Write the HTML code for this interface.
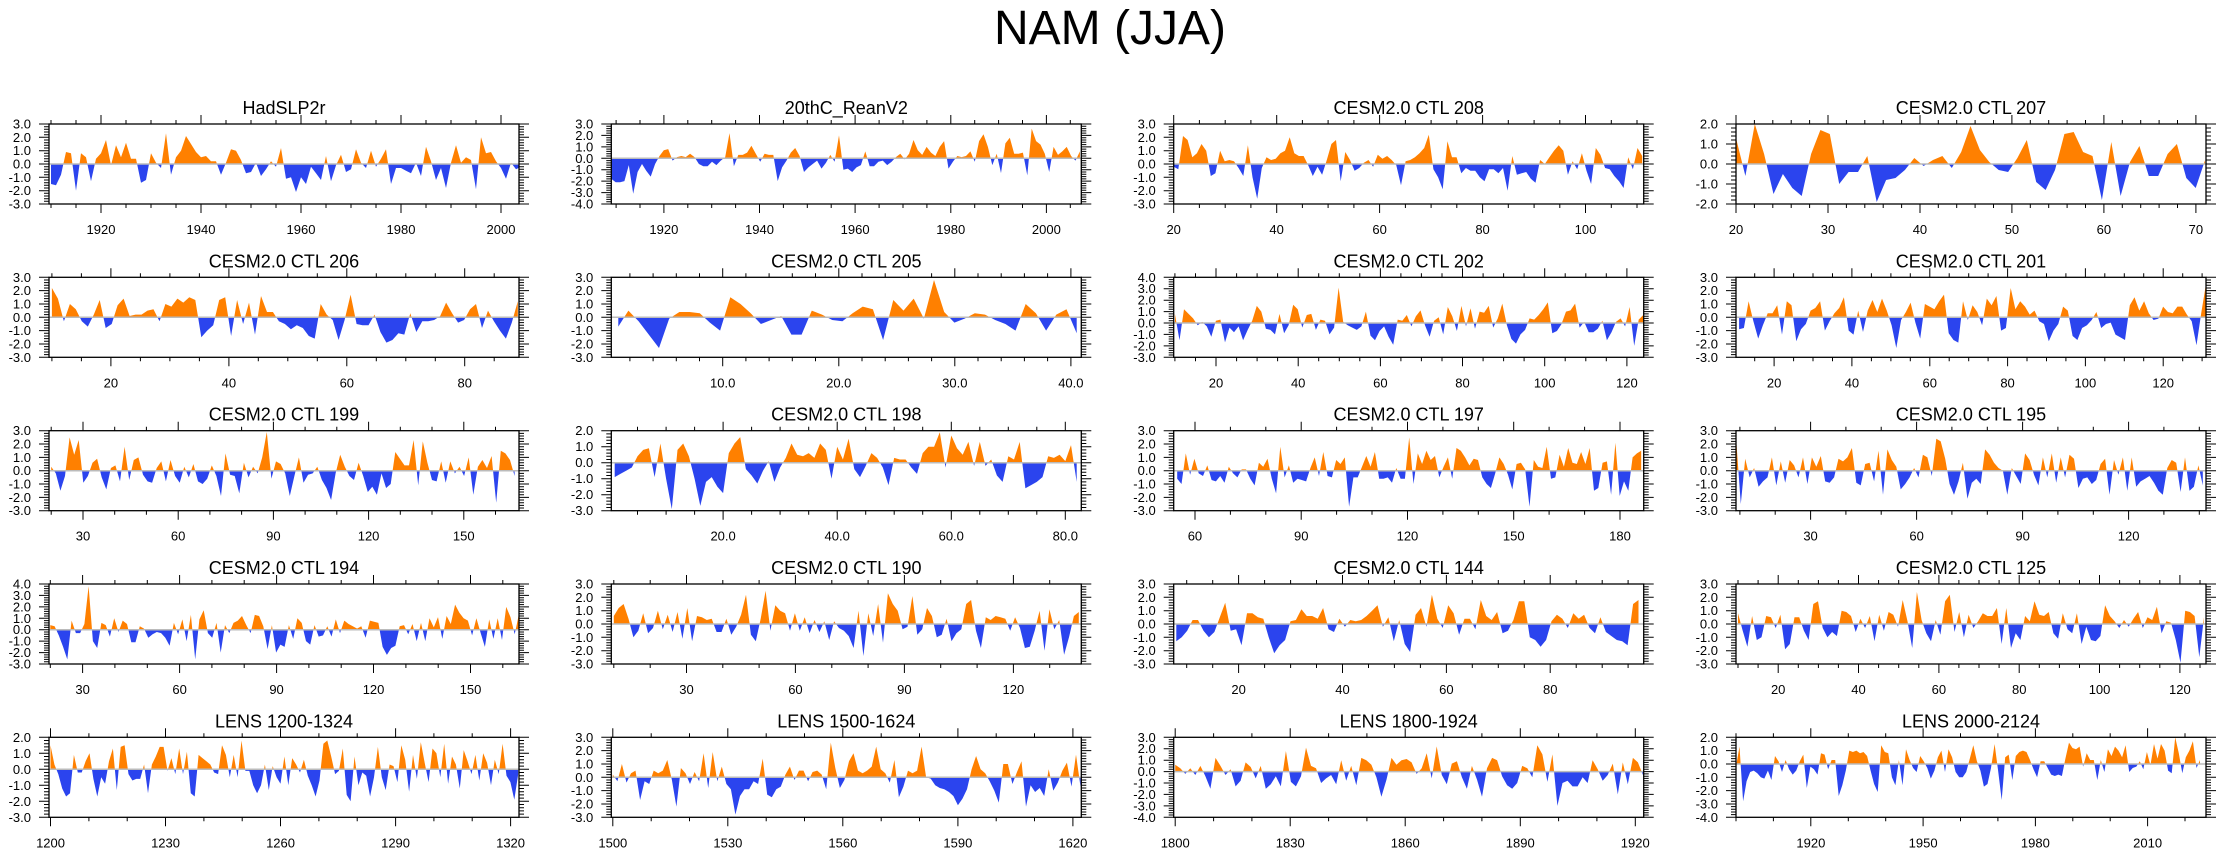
<!DOCTYPE html>
<html><head><meta charset="utf-8"><style>
html,body{margin:0;padding:0;background:#fff;}
svg{display:block;font-family:"Liberation Sans",Arial,sans-serif;}
</style></head><body>
<svg id="fig" width="2238" height="855" viewBox="0 0 2238 855" xmlns="http://www.w3.org/2000/svg">
<rect width="2238" height="855" fill="#fff"/>
<text x="1110" y="44" font-size="48" text-anchor="middle">NAM (JJA)</text>
</svg>
<script>
const titles=["HadSLP2r","20thC_ReanV2","CESM2.0 CTL 208","CESM2.0 CTL 207","CESM2.0 CTL 206","CESM2.0 CTL 205","CESM2.0 CTL 202","CESM2.0 CTL 201","CESM2.0 CTL 199","CESM2.0 CTL 198","CESM2.0 CTL 197","CESM2.0 CTL 195","CESM2.0 CTL 194","CESM2.0 CTL 190","CESM2.0 CTL 144","CESM2.0 CTL 125","LENS 1200-1324","LENS 1500-1624","LENS 1800-1924","LENS 2000-2124"];
const xRanges=[[1909.6,2003.6],[1909,2007.3],[20,111.3],[20,71.1],[9.5,89.2],[0.4,40.9],[9.7,124.1],[10.2,131],[19.3,167.4],[0.4,82.8],[54,186.7],[8.9,141.9],[19.6,165],[9.3,138.7],[7.5,98],[9.5,126.5],[1199.6,1322.2],[1499.6,1622.2],[1799.6,1922.2],[1900,2025.6]];
const dataSpan=[[1910,2004],[1909,2007],[20,111],[20,71],[10,89],[1,40.5],[10,124],[11,131],[20,166],[1,82],[55,186],[9,141],[20,165],[10,138],[8,97],[10,126],[1200,1322],[1500,1622],[1800,1922],[1900,2024]];
const yRanges=[[-3,3],[-4,3],[-3,3],[-2,2],[-3,3],[-3,3],[-3,4],[-3,3],[-3,3],[-3,2],[-3,3],[-3,3],[-3,4],[-3,3],[-3,3],[-3,3],[-3,2],[-3,3],[-4,3],[-4,2]];
const majorTicks=[[1920,1940,1960,1980,2000],[1920,1940,1960,1980,2000],[20,40,60,80,100],[20,30,40,50,60,70],[20,40,60,80],[10,20,30,40],[20,40,60,80,100,120],[20,40,60,80,100,120],[30,60,90,120,150],[20,40,60,80],[60,90,120,150,180],[30,60,90,120],[30,60,90,120,150],[30,60,90,120],[20,40,60,80],[20,40,60,80,100,120],[1200,1230,1260,1290,1320],[1500,1530,1560,1590,1620],[1800,1830,1860,1890,1920],[1920,1950,1980,2010]];
const tickLabels=[["1920","1940","1960","1980","2000"],["1920","1940","1960","1980","2000"],["20","40","60","80","100"],["20","30","40","50","60","70"],["20","40","60","80"],["10.0","20.0","30.0","40.0"],["20","40","60","80","100","120"],["20","40","60","80","100","120"],["30","60","90","120","150"],["20.0","40.0","60.0","80.0"],["60","90","120","150","180"],["30","60","90","120"],["30","60","90","120","150"],["30","60","90","120"],["20","40","60","80"],["20","40","60","80","100","120"],["1200","1230","1260","1290","1320"],["1500","1530","1560","1590","1620"],["1800","1830","1860","1890","1920"],["1920","1950","1980","2010"]];
const minorStep=[5,5,5,2,5,2,5,5,10,5,10,10,10,10,5,5,10,10,10,10];
const s0=[-1.5,-1.6,-0.8,0.9,0.8,-2.0,0.8,0.5,-1.3,0.4,0.8,1.8,-0.1,1.4,0.5,1.6,0.4,0.4,-1.4,-1.2,0.8,0.1,-0.3,2.3,-0.8,0.5,1.0,2.1,1.5,0.9,0.5,0.6,0.2,0.2,-0.8,0.1,1.1,1.0,0.3,-0.7,-0.6,0.1,-0.9,-0.4,0.2,-0.2,1.2,-1.1,-1.0,-2.1,-1.0,-1.5,-0.2,-0.7,-1.2,0.6,-1.3,-0.1,0.7,-0.6,-0.4,1.1,0.1,-0.3,1.0,-0.2,0.4,1.1,-1.5,-0.3,-0.3,-0.5,-0.7,0.1,-0.9,1.3,0.2,-1.2,-0.3,-1.8,0.1,1.4,0.1,0.5,0.3,-1.9,2.0,0.8,0.9,0.2,-0.3,-1.1,0.1,-0.4,-0.2];
const s1=[-1.8,-2.1,-2.1,-2.0,-0.6,-3.1,-1.2,-0.5,-1.1,-1.6,-0.5,0.2,0.7,0.8,-0.2,0.1,0.2,0.1,0.4,0.1,-0.5,-0.7,-0.7,-0.3,-0.6,-0.2,0.1,2.2,-0.7,0.3,0.3,0.5,1.1,0.4,-0.3,0.4,0.3,0.3,-2.0,-0.8,-0.2,0.5,0.9,0.2,-1.2,-0.8,-0.5,-0.2,-0.9,-0.4,0.3,-0.3,2.0,-1.0,-0.9,-1.2,-0.8,-0.6,0.6,-0.7,-0.7,-0.3,-0.2,-0.6,-0.3,0.1,0.4,-0.1,0.4,1.6,0.7,0.3,1.0,0.5,0.2,1.0,1.5,-0.9,-0.3,0.2,0.1,0.2,0.6,-0.3,1.5,2.1,1.0,-0.6,0.4,-1.3,1.3,1.8,0.4,0.4,0.5,-1.5,2.6,1.5,1.2,0.4,-1.2,1.0,0.3,0.6,1.0,0.2,-0.2,0.6];
const s2=[-0.2,-0.4,2.1,1.8,0.5,0.8,1.5,1.0,-0.9,-0.7,1.0,0.2,0.3,0.2,-0.3,-0.9,1.4,-1.0,-2.6,-0.3,0.5,0.3,0.4,0.8,1.0,2.0,0.8,0.6,0.6,-0.1,-0.9,-0.2,-0.8,0.3,1.5,1.8,-1.3,0.9,0.3,-0.5,-0.3,0.1,0.3,-0.2,0.7,0.4,0.6,0.3,-0.1,-1.6,0.2,0.3,0.5,0.8,1.2,2.2,-0.4,-1.0,-1.9,1.7,0.5,0.5,-0.7,-0.3,-0.5,-0.5,-1.0,-1.3,-0.4,-0.4,-0.7,-0.3,-2.0,0.6,-0.8,-0.7,-0.6,-1.1,-1.4,0.3,0.0,0.5,1.0,1.4,1.0,-0.8,0.2,-0.4,0.8,-0.5,-1.5,1.2,0.7,-0.3,-0.4,-0.9,-1.3,-1.8,0.5,-0.4,1.2,0.6];
const s3=[1.3,-0.6,2.0,0.5,-1.5,-0.5,-1.2,-1.6,0.5,1.7,1.5,-1.0,-0.4,-0.4,0.4,-1.9,-0.8,-0.7,-0.3,0.3,-0.1,0.2,0.4,-0.2,0.6,1.9,0.7,0.1,-0.3,-0.4,0.3,1.2,-0.9,-1.3,-0.3,1.5,1.6,0.6,0.4,-1.8,1.1,-1.6,0.1,0.9,-0.6,-0.6,0.5,1.0,-0.7,-1.2,0.2];
const s4=[2.2,1.4,-0.3,1.0,0.6,-0.3,-0.7,0.2,1.3,-0.8,-0.5,0.9,1.4,0.1,0.2,0.2,0.5,0.6,-0.3,1.0,0.8,1.4,1.1,1.5,1.3,-1.5,-1.0,-0.6,1.3,1.5,-1.4,1.3,-0.5,1.1,-1.3,1.6,0.4,0.4,-0.3,-0.5,-0.9,-0.6,-0.8,-1.4,-1.6,1.0,0.2,-0.2,-1.7,-0.2,1.7,-0.5,-0.6,-0.6,0.2,-1.1,-1.9,-1.7,-1.2,-1.3,0.3,-1.1,-0.3,-0.3,-0.2,0.1,1.1,0.3,-0.4,-0.2,0.6,1.0,-0.8,0.5,-0.3,-1.0,-1.6,-0.4,1.2];
const s5=[-0.7,0.5,-0.3,-1.3,-2.3,-0.1,0.4,0.4,0.3,-0.4,-1.0,1.5,1.0,0.3,-0.5,-0.2,0.1,-1.3,-1.3,0.5,0.2,-0.2,-0.3,0.3,0.8,0.6,-1.7,1.3,0.5,1.4,-0.1,2.8,0.4,-0.4,-0.1,0.3,0.2,-0.2,-0.5,-1.0,1.0,0.3,-1.0,0.2,0.6,-1.2];
const s6=[0.8,-1.5,1.2,0.8,0.4,-0.2,0.1,-0.3,-1.2,0.2,0.3,-1.7,-0.4,-0.8,-0.3,-1.5,-0.6,0.2,1.5,1.0,-0.5,-0.6,-1.0,0.8,-0.9,-0.2,1.6,1.2,-0.4,0.7,0.8,-0.6,0.3,0.2,-1.0,-0.4,3.1,0.1,-0.2,-0.4,-0.6,-0.3,1.0,-1.1,-1.5,-0.7,-0.3,-1.2,-1.9,0.3,0.2,0.7,-0.3,0.6,1.1,-0.2,-1.2,0.2,0.5,-1.0,1.4,0.6,-0.7,1.5,-0.3,1.3,-0.5,1.0,0.9,1.5,-0.4,0.4,1.7,-0.2,-1.4,-1.8,-1.0,-0.6,0.4,0.3,0.7,1.2,1.8,-0.9,-0.7,-0.1,1.0,1.1,1.7,-0.4,0.1,-0.8,-0.8,-0.5,0.2,-1.5,-0.8,0.1,0.4,-0.3,1.4,-2.0,0.3,0.7];
const s7=[-0.9,-0.8,1.2,-0.3,-1.6,-0.6,0.3,0.3,0.9,-1.3,1.2,0.9,-1.8,-0.9,-0.5,0.5,0.7,1.2,-1.0,-0.3,0.3,0.7,1.5,-1.0,-1.3,0.5,-1.1,0.5,1.3,0.4,1.4,0.5,-0.6,-2.3,-0.2,0.4,1.1,-0.4,-1.6,1.0,0.8,0.6,1.2,1.7,-1.2,-1.7,-1.9,1.2,-0.2,0.9,0.4,-0.6,1.4,0.9,1.6,-1.0,-0.8,2.2,0.6,1.2,0.8,0.2,0.5,-0.3,-0.5,-1.8,-1.0,-0.5,0.8,0.5,-1.4,-1.7,-0.8,-0.6,-0.2,0.4,-0.8,-0.5,-0.4,-1.3,-1.5,-1.7,0.9,1.5,0.5,1.2,0.3,-0.2,-0.1,0.8,0.4,0.3,0.8,0.8,0.2,-0.3,-2.1,0.3,2.5];
const s8=[0.3,-0.2,-1.5,-0.4,2.5,1.2,2.3,-0.9,-0.4,0.6,0.9,-0.5,-1.4,0.2,0.4,-0.8,1.8,-0.7,0.8,1.0,-0.3,-0.8,-0.9,0.2,0.7,-0.8,0.8,-0.4,-0.9,0.3,-0.5,0.5,-0.8,-1.0,-0.6,0.4,-0.4,-1.9,1.3,-0.3,-0.4,-1.7,0.6,-0.5,0.3,-0.2,1.0,2.9,-0.6,0.7,0.5,-0.2,-1.9,-0.4,1.0,-0.9,-0.3,-0.2,0.3,-0.7,-1.3,-2.2,-0.2,1.2,0.3,-0.4,-0.7,0.6,-0.4,-1.6,-1.2,-1.8,-0.2,-1.3,-1.0,1.4,0.9,0.4,0.4,2.3,-1.1,2.2,0.6,-0.7,-0.8,0.7,-0.9,0.7,-0.2,0.3,-0.4,1.0,-1.8,0.3,0.8,0.2,1.1,-2.4,1.5,1.3,0.8,-0.4];
const s9=[-0.9,-0.7,-0.5,-0.3,0.4,0.8,0.9,-0.9,1.2,-1.0,-2.9,0.8,1.2,0.4,-1.0,-2.7,-1.2,-0.9,-1.5,-1.9,0.6,1.2,1.6,-0.4,-0.8,-1.3,-0.5,0.1,-1.2,-0.3,0.3,1.2,0.5,0.4,0.6,0.3,1.2,0.8,-1.0,1.0,0.2,1.5,-0.4,-0.9,-0.2,0.6,0.3,-0.3,-1.4,0.3,0.2,0.2,-0.3,-0.7,0.6,1.0,1.0,1.9,-0.3,1.7,0.9,0.5,1.3,-0.2,1.3,-0.2,0.2,-0.8,-1.2,0.4,0.2,1.3,-1.6,-1.4,-1.2,-0.9,0.4,0.3,0.5,0.1,1.1,-1.2];
const s10=[-0.6,-1.0,1.3,-0.3,0.9,-0.2,-0.4,0.4,-0.7,-0.8,-0.4,-0.9,0.3,-0.2,-0.5,0.1,0.1,-0.6,-1.1,0.6,0.3,0.9,-0.6,-1.7,1.8,-0.5,0.4,-0.9,-0.6,-0.7,-0.8,0.2,1.0,-0.4,1.4,-0.4,-0.5,0.8,0.5,1.0,-2.7,-0.5,-0.5,0.3,1.1,0.3,1.4,-0.6,-0.6,-0.5,-0.9,0.2,-0.6,-0.6,2.5,-1.0,1.3,0.5,1.5,0.8,1.1,-0.5,0.3,1.0,-0.6,1.7,1.5,1.0,0.4,0.9,0.8,-0.5,-1.0,-1.3,-0.2,1.0,0.5,-0.3,-1.4,0.5,0.6,0.1,-2.7,0.8,0.3,0.2,1.8,-0.6,-0.5,1.2,0.3,1.7,0.6,0.5,1.4,0.5,1.7,-1.5,-1.3,0.6,0.7,-1.8,2.1,-1.9,-0.8,-1.5,1.0,1.3,1.5];
const s11=[2.1,-2.5,0.9,-0.5,0.2,-1.2,-0.8,-0.5,1.0,-1.1,0.7,-0.9,0.8,0.4,-0.5,1.0,-1.0,1.0,0.3,1.1,-0.8,-0.9,-0.5,0.9,0.7,1.0,1.7,-0.9,-1.1,0.5,0.6,-0.8,1.5,-1.8,1.6,0.8,0.3,-1.4,-1.0,-0.5,0.2,-0.5,1.2,1.0,-0.4,2.4,2.2,0.9,-1.0,-1.8,-0.8,0.6,-2.1,-0.9,-0.6,-1.0,1.6,1.2,0.6,0.2,0.0,-1.8,0.2,-0.4,-1.0,1.3,0.8,-0.3,-1.1,1.0,-0.5,1.3,-0.9,1.0,-0.5,1.2,0.9,-1.3,-0.6,-0.5,-1.0,-0.7,0.5,0.9,-1.8,0.8,-0.3,1.0,-1.5,1.0,-1.2,-0.8,-0.6,-0.4,-0.9,-1.5,-1.8,0.2,0.8,0.6,-1.6,1.0,-1.5,-1.2,0.4,-1.1];
const s12=[0.4,0.3,-0.5,-1.5,-2.6,0.8,-0.3,-0.3,0.5,3.8,-1.0,-1.6,0.6,0.4,-0.6,1.0,-0.2,0.8,0.5,-1.1,-1.1,0.3,0.1,-0.7,-0.4,-0.2,-0.3,-0.7,-1.4,0.6,-0.4,0.9,-1.0,1.3,-2.6,0.9,1.7,-0.3,-0.7,0.6,-2.0,0.4,-0.3,0.6,0.8,1.2,0.4,-0.3,1.3,1.2,0.3,-1.7,0.4,-2.0,-1.3,-1.5,0.4,-0.8,1.0,0.6,-1.0,-1.3,0.4,-0.6,-0.5,0.3,-0.6,0.9,-0.3,0.8,0.5,0.3,0.1,0.3,-0.7,0.8,0.7,0.6,-1.5,-2.2,-1.6,-1.4,0.3,0.4,-0.4,0.5,-1.0,0.6,-1.0,1.0,0.2,1.1,-0.8,1.2,0.5,2.2,1.5,1.0,0.8,-0.5,1.0,-0.3,-1.5,0.9,-0.8,1.0,-0.9,2.0,1.1,-0.4,1.4];
const s13=[0.6,1.2,1.5,0.4,-1.0,-0.5,0.8,-0.7,-0.3,1.0,-0.4,0.7,-0.6,0.9,-1.1,1.2,-1.3,0.6,0.5,0.3,0.4,-0.6,-0.6,0.4,-0.8,-0.2,0.7,2.2,-0.8,-1.3,0.4,2.5,-0.5,1.4,1.0,0.8,-0.5,0.8,-0.5,0.5,-0.7,0.3,-0.6,0.2,-1.2,0.2,-0.3,-0.5,-0.9,-1.8,1.0,-2.4,0.8,-0.9,1.5,-1.4,2.3,1.5,1.0,-0.4,-0.2,2.1,-0.8,-0.4,1.2,0.6,-1.0,-0.8,0.4,-1.3,-0.7,-0.4,1.5,1.8,-0.5,-1.8,0.5,0.3,0.6,0.5,0.4,-0.5,0.5,-0.3,-1.8,-1.7,-0.5,1.0,-2.0,1.1,-0.4,0.3,-2.3,-1.0,0.6,0.9];
const s14=[-1.3,-1.0,-0.5,0.3,0.3,-0.5,-1.0,-0.6,0.5,1.6,-0.5,-0.4,-1.6,0.8,0.8,0.5,0.4,-1.0,-2.2,-1.6,-1.2,0.2,0.3,1.1,0.6,0.6,0.4,1.2,-0.4,-0.6,0.4,-0.2,0.3,0.2,0.3,0.6,1.0,1.4,-0.2,0.5,-1.3,0.3,-1.5,-2.1,0.7,1.2,-0.2,2.2,0.4,-0.3,1.4,0.8,-0.8,0.4,0.4,-0.4,1.8,0.6,0.3,0.9,-0.7,-0.5,0.3,1.7,1.7,-1.0,-1.2,-1.7,-1.2,0.2,0.7,0.4,-0.3,0.8,0.4,0.7,-0.3,-0.7,0.5,-0.6,-0.9,-1.2,-1.3,-1.6,1.5,1.8];
const s15=[0.8,-0.5,-1.7,0.6,-1.2,-1.0,0.6,0.5,-0.3,0.7,-1.9,-1.5,0.5,0.5,-0.5,-1.2,1.5,1.7,-0.3,-1.0,-0.6,-0.9,1.0,0.9,0.6,-0.6,0.4,-0.3,0.6,-1.3,0.7,-0.5,0.9,0.7,-0.2,1.8,0.2,-1.8,2.4,0.3,-0.7,-1.3,0.3,-0.8,1.7,2.2,-0.6,0.9,-1.0,0.7,-0.3,0.2,0.8,0.6,0.6,1.2,-1.5,1.2,-1.8,-0.7,-1.2,0.6,0.2,1.7,0.7,0.6,0.9,-0.7,-1.1,0.8,-0.4,-0.7,0.8,-1.5,-0.2,-1.2,-1.3,-0.9,1.4,0.6,0.2,-0.3,0.3,-0.2,0.4,0.9,-0.3,0.5,0.3,1.3,-0.7,0.2,0.1,-1.2,-2.9,1.0,0.9,0.6,-2.5,0.5];
const s16=[1.5,0.3,-0.3,-1.2,-1.7,-1.5,0.9,-0.2,-0.2,0.5,1.0,-0.6,-1.7,-0.5,-0.9,0.5,1.3,-1.3,1.4,1.5,-0.3,-0.7,-0.6,-0.6,0.3,-1.5,0.3,0.8,1.4,1.4,-0.1,0.7,-0.3,1.3,-0.3,1.1,-1.5,-1.7,0.9,0.7,0.5,0.3,-0.2,-0.3,1.5,0.9,-0.5,0.9,-0.5,1.8,-0.1,-0.1,-1.0,-1.5,-1.0,0.3,-1.3,0.2,-0.5,-0.9,0.8,-1.0,0.7,0.3,-0.2,0.6,-0.4,-1.0,-1.7,-0.7,1.6,1.8,0.8,-0.3,-0.1,1.3,-1.6,-2.0,0.8,-1.0,-0.2,-0.4,-1.7,-0.5,1.4,-0.5,-1.3,0.3,0.2,-0.8,1.5,0.6,-1.4,0.9,-0.6,1.7,0.4,-0.8,1.3,1.0,-0.5,1.6,-0.9,0.8,0.3,-1.2,1.2,0.5,-0.3,0.9,-0.7,1.0,0.4,-1.0,0.6,-0.3,1.6,-0.4,-0.8,-1.9,-0.3];
const s17=[0.2,-0.3,1.0,-0.4,0.3,0.5,-1.7,-0.3,-0.5,0.5,0.3,0.5,1.3,-0.2,-2.2,0.7,0.3,-0.5,0.4,-0.3,1.8,-0.8,1.9,-0.3,0.8,-0.5,-0.9,-2.8,-1.4,-0.9,-0.9,-0.3,-0.5,1.4,-1.3,-1.5,-0.9,-0.7,0.2,0.8,-0.2,0.5,0.5,-0.3,0.4,0.5,0.2,-0.9,2.6,0.7,-0.8,-0.2,1.2,1.8,0.5,0.3,0.5,0.8,2.3,0.6,0.3,-0.4,1.3,-1.5,-0.7,0.5,0.3,0.5,2.3,0.0,-0.1,-0.6,-0.8,-0.9,-1.1,-1.4,-2.1,-1.6,-0.9,0.6,1.6,0.6,0.3,-0.3,-1.0,-1.9,1.0,1.0,-0.5,0.4,1.2,-2.2,-0.6,-1.1,-0.8,-1.4,0.6,-1.0,-0.4,0.5,1.1,-0.7,1.7,-0.7];
const s18=[0.6,0.3,-0.2,0.3,-0.3,0.5,-0.4,-1.5,1.2,0.5,-0.3,0.2,-1.3,-0.8,0.8,0.4,-0.6,0.5,-1.5,-1.1,-0.4,-1.3,1.8,-0.9,-1.3,-0.4,2.1,0.5,0.3,-1.0,-0.6,-0.3,-1.1,1.0,-0.8,0.5,-1.2,1.2,1.0,0.6,-0.5,-2.2,-0.7,1.2,0.6,1.0,1.1,0.8,-0.2,0.3,1.6,-0.6,2.2,-0.3,-1.1,0.7,0.9,-0.5,-1.5,0.5,-0.7,-2.2,0.3,1.2,1.0,-0.4,-1.2,-1.5,-1.0,0.5,0.3,-0.5,2.3,1.5,-0.9,1.5,-3.0,-1.0,-0.8,-1.3,-1.3,-0.5,-1.0,1.0,0.2,-0.8,-0.3,0.7,-2.0,0.8,-1.1,1.2,0.8,-0.3];
const s19=[-0.2,1.3,-2.8,-1.3,-0.6,-0.5,-0.7,-1.0,-1.1,-0.5,-1.2,0.6,0.2,-0.6,0.3,-0.4,-0.8,-0.5,0.2,0.7,-1.8,-0.2,-0.4,-0.8,0.8,0.7,-0.4,0.3,0.3,-2.4,-1.6,-0.5,1.0,0.9,1.0,0.8,0.9,0.6,-0.5,-1.5,-2.1,1.4,0.9,0.8,-1.0,-1.6,0.3,-1.6,1.1,0.3,-0.3,-0.6,0.6,0.2,-0.3,-1.1,-0.5,0.5,1.0,-0.6,1.1,0.5,-0.6,-1.0,-1.0,-0.6,0.4,1.4,0.2,-0.5,-1.7,-1.5,-0.3,1.5,-0.5,-2.7,0.5,0.7,-1.2,0.6,0.9,1.0,0.9,0.3,-0.4,-1.0,0.2,0.2,-0.3,-0.8,-0.9,-0.8,-0.9,0.4,1.6,1.2,1.1,1.3,-0.2,0.8,0.3,0.3,-1.2,0.3,-0.6,1.1,0.6,1.3,1.0,0.5,1.4,-0.6,-0.3,-0.2,0.2,-0.4,0.9,-0.1,1.5,0.4,1.5,1.0,-0.5,-0.7,2.0,0.8,-0.7,0.5,1.0,1.7,-0.3,0.3];
const series=[s0,s1,s2,s3,s4,s5,s6,s7,s8,s9,s10,s11,s12,s13,s14,s15,s16,s17,s18,s19];

const NS="http://www.w3.org/2000/svg";
const svg=document.getElementById('fig');
const colLeft=[49,611.3,1173.7,1736], rowTop=[124,277.3,430.7,584,737.3], PW=470, PH=80;
function mk(tag,attrs,parent){const e=document.createElementNS(NS,tag);for(const k in attrs)e.setAttribute(k,attrs[k]);parent.appendChild(e);return e;}

for(let p=0;p<20;p++){
  const L=colLeft[p%4], T=rowTop[Math.floor(p/4)], R=L+PW, B=T+PH;
  const [x0,x1]=xRanges[p], [y0,y1]=yRanges[p];
  const sx=v=>L+(v-x0)/(x1-x0)*PW;
  const sy=v=>B-(v-y0)/(y1-y0)*PH;
  const g=mk('g',{},svg);
  
  
  const vals=series[p], [d0,d1]=dataSpan[p], n=vals.length;
  const xs=vals.map((v,i)=>sx(d0+(d1-d0)*i/(n-1)));
  const zy=sy(0);
  let d='M'+xs[0].toFixed(1)+','+zy.toFixed(1);
  vals.forEach((v,i)=>{d+=' L'+xs[i].toFixed(1)+','+sy(v).toFixed(1);});
  d+=' L'+xs[n-1].toFixed(1)+','+zy.toFixed(1)+' Z';
  const cid='c'+p;
  const defs=mk('defs',{},g);
  const cpA=mk('clipPath',{id:cid+'a'},defs); mk('rect',{x:L,y:T,width:PW,height:zy-T},cpA);
  const cpB=mk('clipPath',{id:cid+'b'},defs); mk('rect',{x:L,y:zy,width:PW,height:B-zy},cpB);
  const pa=mk('path',{d:d,fill:'#ff8000','clip-path':'url(#'+cid+'a)'},g);
  
  
  const pb=mk('path',{d:d,fill:'#2b44ee','clip-path':'url(#'+cid+'b)'},g);
  
  
  const zl=mk('line',{x1:L,x2:R,y1:zy,y2:zy,stroke:'#bbbbbb','stroke-width':1.5},g);
  
  
  const fr=mk('rect',{x:L,y:T,width:PW,height:PH,fill:'none',stroke:'#000','stroke-width':1.3},g);
  
  
  const ms=minorStep[p];
  let tp='';
  for(let v=Math.ceil(x0/ms)*ms; v<=x1; v+=ms){const x=sx(v).toFixed(1);tp+='M'+x+','+T+'v-4M'+x+','+B+'v4';}
  majorTicks[p].forEach(v=>{const x=sx(v).toFixed(1);tp+='M'+x+','+T+'v-9M'+x+','+B+'v9';});
  for(let k=Math.round(y0*5);k<=Math.round(y1*5);k++){const y=sy(k/5).toFixed(1);const len=(k%5===0)?10:5;tp+='M'+L+','+y+'h-'+len+'M'+R+','+y+'h'+len;}
  const tk=mk('path',{d:tp,stroke:'#000','stroke-width':1,fill:'none'},g);
  
  
  majorTicks[p].forEach((v,i)=>{
    const t=mk('text',{x:sx(v),y:B+30,'font-size':13,'text-anchor':'middle'},g);
    
    
    t.textContent=tickLabels[p][i];
  });
  for(let k=y0;k<=y1;k++){
    const t=mk('text',{x:L-18,y:sy(k)+4.5,'font-size':13,'text-anchor':'end'},g);
    
    
    t.textContent=k.toFixed(1);
  }
  const tt=mk('text',{x:L+PW/2,y:T-10,'font-size':18,'text-anchor':'middle'},g);
  
  
  tt.textContent=titles[p];
}
</script>
</body></html>
